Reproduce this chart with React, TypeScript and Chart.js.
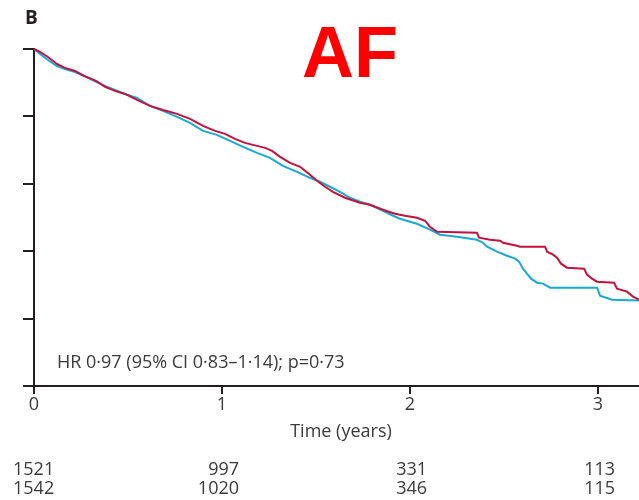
import React, { useEffect, useRef } from "react";
import { Chart, registerables } from "chart.js";

Chart.register(...registerables);

// Kaplan–Meier curves, [time in years, survival proportion]
const RED_SERIES: [number, number][] = [
  [0, 1.0], [0.032, 0.9956], [0.074, 0.9881], [0.122, 0.9778], [0.165, 0.9719],
  [0.218, 0.9674], [0.266, 0.96], [0.33, 0.9526], [0.378, 0.9437], [0.431, 0.9378],
  [0.484, 0.9333], [0.548, 0.9244], [0.617, 0.9156], [0.686, 0.9096], [0.761, 0.9037],
  [0.83, 0.8963], [0.899, 0.8859], [0.963, 0.8785], [1.016, 0.8741], [1.069, 0.8667],
  [1.122, 0.8607], [1.186, 0.8563], [1.229, 0.8533], [1.266, 0.8489], [1.309, 0.84],
  [1.362, 0.8311], [1.415, 0.8252], [1.468, 0.8133], [1.505, 0.8044], [1.548, 0.7956],
  [1.59, 0.7881], [1.654, 0.7793], [1.734, 0.7719], [1.787, 0.7689], [1.856, 0.7615],
  [1.92, 0.7556], [1.973, 0.7526], [2.037, 0.7496], [2.08, 0.7452], [2.106, 0.7363],
  [2.144, 0.7289], [2.356, 0.7274], [2.367, 0.72], [2.426, 0.717], [2.479, 0.7156],
  [2.495, 0.7126], [2.569, 0.7081], [2.585, 0.7067], [2.718, 0.7067], [2.729, 0.6993],
  [2.761, 0.6948], [2.782, 0.6904], [2.803, 0.6815], [2.835, 0.6756], [2.926, 0.6741],
  [2.941, 0.6652], [2.968, 0.6593], [2.995, 0.6548], [3.085, 0.6533], [3.101, 0.6444],
  [3.154, 0.64], [3.186, 0.6326], [3.218, 0.6281],
];

const CYAN_SERIES: [number, number][] = [
  [0, 1.0], [0.032, 0.9926], [0.074, 0.9837], [0.122, 0.9748], [0.165, 0.9704],
  [0.218, 0.9659], [0.266, 0.96], [0.33, 0.9511], [0.378, 0.9452], [0.431, 0.9393],
  [0.484, 0.9333], [0.548, 0.9274], [0.617, 0.9156], [0.686, 0.9081], [0.761, 0.8993],
  [0.83, 0.8904], [0.899, 0.8785], [0.973, 0.8726], [1.043, 0.8637], [1.112, 0.8548],
  [1.186, 0.8459], [1.255, 0.8385], [1.324, 0.8267], [1.399, 0.8178], [1.468, 0.8089],
  [1.521, 0.803], [1.574, 0.7956], [1.628, 0.7881], [1.681, 0.7793], [1.734, 0.7733],
  [1.787, 0.7689], [1.856, 0.76], [1.91, 0.7526], [1.947, 0.7481], [2.0, 0.7437],
  [2.037, 0.7407], [2.106, 0.7319], [2.16, 0.7244], [2.25, 0.7215], [2.356, 0.717],
  [2.388, 0.7126], [2.41, 0.7067], [2.463, 0.6993], [2.516, 0.6933], [2.559, 0.6889],
  [2.58, 0.6844], [2.601, 0.6741], [2.622, 0.6667], [2.644, 0.6593], [2.676, 0.6533],
  [2.707, 0.6519], [2.745, 0.6459], [2.995, 0.6459], [3.011, 0.6341], [3.074, 0.6281],
  [3.218, 0.6267],
];

const X_TICKS = [0, 1, 2, 3];
const X_MAX = 3.218;
const Y_TICKS = [0.5, 0.6, 0.7, 0.8, 0.9, 1.0];
const RISK_TIMES = [0, 1, 2, 3];
const RISK_ROW1 = [1521, 997, 331, 113];
const RISK_ROW2 = [1542, 1020, 346, 115];
const HR_TEXT = "HR 0·97 (95% CI 0·83–1·14); p=0·73";
const X_TITLE = "Time (years)";
const PANEL_LABEL = "B";
const BIG_TITLE = "AF";

const RED = "#c4123f";
const CYAN = "#1aa9cf";
const AXIS = "#231f20";
const TEXT = "#3a3a3a";
const FONT = '"Open Sans", "DejaVu Sans", sans-serif';

const textPlugin = {
  id: "extraTexts",
  afterDraw(chart: any) {
    const ctx = chart.ctx as CanvasRenderingContext2D;
    const xs = chart.scales.x;
    const area = chart.chartArea;
    ctx.save();
    ctx.textBaseline = "alphabetic";

    ctx.fillStyle = AXIS;
    ctx.font = `bold 19px ${FONT}`;
    ctx.textAlign = "left";
    ctx.fillText(PANEL_LABEL, 25, 24);

    ctx.fillStyle = "#ff0000";
    ctx.font = 'bold 72px "Liberation Sans", Arial, sans-serif';
    ctx.textAlign = "center";
    ctx.fillText(BIG_TITLE, 350, 77);

    ctx.fillStyle = TEXT;
    ctx.font = `18px ${FONT}`;
    ctx.textAlign = "left";
    ctx.fillText(HR_TEXT, area.left + 23, 368);

    ctx.textAlign = "center";
    ctx.fillText(X_TITLE, 341, 437);

    const rows = [RISK_ROW1, RISK_ROW2];
    const baselines = [475, 494];
    rows.forEach((row, r) => {
      row.forEach((n, i) => {
        const px = xs.getPixelForValue(RISK_TIMES[i]);
        if (i === 0) {
          ctx.textAlign = "left";
          ctx.fillText(String(n), px - 21, baselines[r]);
        } else {
          ctx.textAlign = "right";
          ctx.fillText(String(n), px + 17, baselines[r]);
        }
      });
    });
    ctx.restore();
  },
};

export default function App() {
  const ref = useRef<HTMLCanvasElement | null>(null);

  useEffect(() => {
    if (!ref.current) return;
    Chart.defaults.font.family = FONT;
    const chart = new Chart(ref.current, {
      type: "line",
      data: {
        datasets: [
          {
            label: "red",
            data: RED_SERIES.map(([x, y]) => ({ x, y })),
            borderColor: RED,
            borderWidth: 2,
            pointRadius: 0,
            fill: false,
            tension: 0,
            clip: false as any,
            order: 0,
          },
          {
            label: "cyan",
            data: CYAN_SERIES.map(([x, y]) => ({ x, y })),
            borderColor: CYAN,
            borderWidth: 2,
            pointRadius: 0,
            fill: false,
            tension: 0,
            clip: false as any,
            order: 1,
          },
        ],
      },
      options: {
        responsive: false,
        animation: false,
        layout: { padding: { left: 0, top: 49, right: 0, bottom: 0 } },
        plugins: { legend: { display: false }, tooltip: { enabled: false }, title: { display: false } },
        scales: {
          x: {
            type: "linear",
            min: 0,
            max: X_MAX,
            afterBuildTicks: (s: any) => {
              s.ticks = X_TICKS.map((v) => ({ value: v }));
            },
            afterFit: (s: any) => {
              s.height = 114;
            },
            ticks: {
              color: TEXT,
              font: { size: 18, family: FONT },
              padding: 0,
              maxRotation: 0,
              callback: (v: any) => String(v),
            },
            grid: {
              drawOnChartArea: false,
              drawTicks: true,
              tickLength: 8,
              color: AXIS,
              lineWidth: 2,
            },
            border: { display: true, color: AXIS, width: 2 },
          },
          y: {
            type: "linear",
            min: 0.5,
            max: 1.0,
            afterBuildTicks: (s: any) => {
              s.ticks = Y_TICKS.map((v) => ({ value: v }));
            },
            afterFit: (s: any) => {
              s.width = 34;
            },
            ticks: { display: false },
            grid: {
              drawOnChartArea: false,
              drawTicks: true,
              tickLength: 11,
              color: AXIS,
              lineWidth: 2,
            },
            border: { display: true, color: AXIS, width: 2 },
          },
        },
      },
      plugins: [textPlugin],
    });
    return () => chart.destroy();
  }, []);

  return (
    <div style={{ position: "absolute", left: 0, top: 0, width: 639, height: 500, background: "#fff" }}>
      <canvas ref={ref} width={639} height={500} style={{ display: "block" }} />
    </div>
  );
}
